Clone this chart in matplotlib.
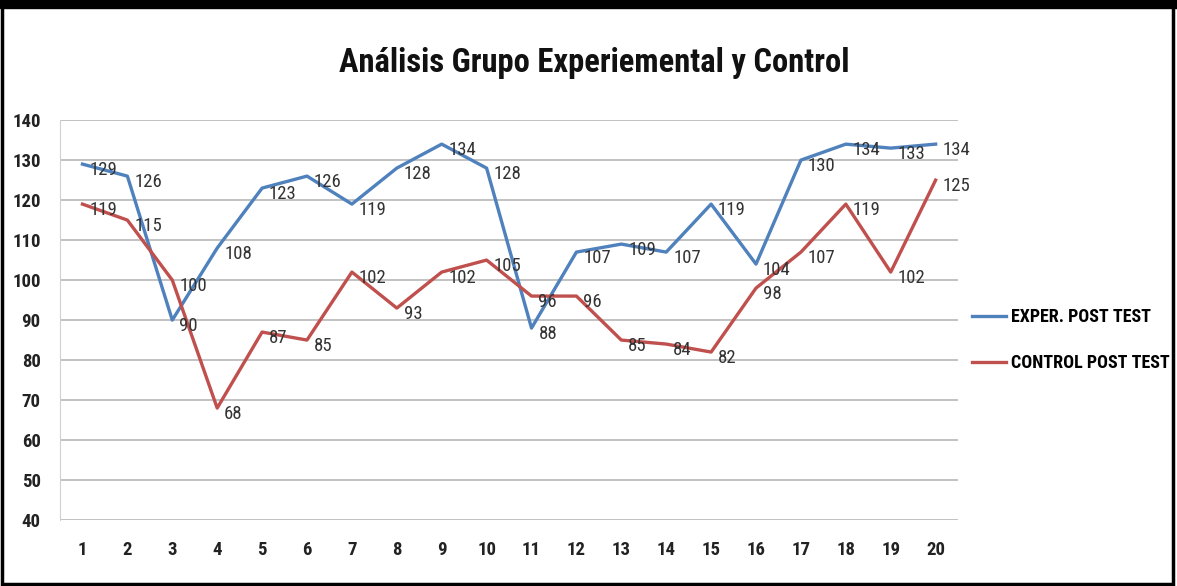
import matplotlib
matplotlib.use("Agg")
import matplotlib.pyplot as plt
from matplotlib.patches import Rectangle
from matplotlib import font_manager

# data
sessions = list(range(1, 21))
exper_post = [129, 126, 90, 108, 123, 126, 119, 128, 134, 128,
              88, 107, 109, 107, 119, 104, 130, 134, 133, 134]
control_post = [119, 115, 100, 68, 87, 85, 102, 93, 102, 105,
                96, 96, 85, 84, 82, 98, 107, 119, 102, 125]
yticks = list(range(40, 150, 10))

blue = '#4F81BD'
red = '#C0504D'

installed = {f.name for f in font_manager.fontManager.ttflist}
narrow = [n for n in ['Liberation Sans Narrow', 'DejaVu Sans Condensed',
                      'Roboto Condensed', 'Open Sans Condensed'] if n in installed]
fam = narrow[:1] + ['DejaVu Sans']
plt.rcParams['font.family'] = fam
condensed = bool(narrow)
sc = 1.0 if condensed else 0.85

fig = plt.figure(figsize=(11.77, 5.86), dpi=100)
ax = fig.add_axes([0.051, 0.1126, 0.763, 0.6824])

ax.plot(sessions, exper_post, color=blue, lw=2.4, label='EXPER. POST TEST')
ax.plot(sessions, control_post, color=red, lw=2.4, label='CONTROL POST TEST')

for x, y in zip(sessions, exper_post):
    ax.annotate(str(y), (x, y), xytext=(5, -4), textcoords='offset points',
                ha='left', va='center', fontsize=13.5 * sc, color='#333333')
for x, y in zip(sessions, control_post):
    ax.annotate(str(y), (x, y), xytext=(5, -4), textcoords='offset points',
                ha='left', va='center', fontsize=13.5 * sc, color='#333333')

ax.set_xlim(0.5, 20.5)
ax.set_ylim(40, 140)
ax.set_yticks(yticks)
ax.set_xticks(sessions)
ax.tick_params(axis='both', length=0, labelsize=13.5 * sc, colors='#222222')
ax.tick_params(axis='x', pad=15)
ax.tick_params(axis='y', pad=14)
for lbl in ax.get_xticklabels() + ax.get_yticklabels():
    lbl.set_fontweight('bold')
ax.grid(axis='y', color='#BDBDBD', lw=1.3)
ax.set_axisbelow(True)
for s in ['top', 'right', 'bottom']:
    ax.spines[s].set_visible(False)
ax.spines['left'].set_color('#D0D0D0')

fig.text(0.505, 0.893, 'Análisis Grupo Experiemental y Control', ha='center',
         va='center', fontsize=23.5 if condensed else 19, fontweight='bold',
         color='#111111')

leg = fig.legend(loc='center left', bbox_to_anchor=(0.812, 0.42), frameon=False,
                 handlelength=1.9, handletextpad=0.25, labelspacing=1.55,
                 fontsize=13 * sc)
for t in leg.get_texts():
    t.set_fontweight('bold')

# outer black frame
fig.patches.append(Rectangle((0.002, 0.004), 0.995, 0.985, transform=fig.transFigure,
                             fill=False, edgecolor='black', lw=2.5))
fig.patches.append(Rectangle((0, 0.986), 1, 0.014, transform=fig.transFigure,
                             color='black'))

fig.savefig('out.png', dpi=100)
